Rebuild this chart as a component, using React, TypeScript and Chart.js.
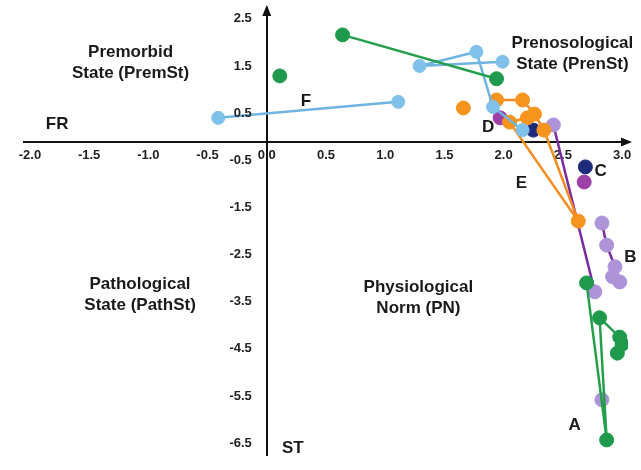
import React, { useEffect, useRef } from 'react';
import { Chart, registerables } from 'chart.js';

Chart.register(...registerables);

// Tick labels
const xTicks = [-2, -1.5, -1, -0.5, 0, 0.5, 1, 1.5, 2, 2.5, 3];
const yTicks = [2.5, 1.5, 0.5, -0.5, -1.5, -2.5, -3.5, -4.5, -5.5, -6.5];

// Series values (x = FR, y = ST)
const greenTop = [{ x: 0.64, y: 2.16 }, { x: 1.94, y: 1.23 }];
const greenSingle = [{ x: 0.11, y: 1.29 }];
const greenA = [
  { x: 2.70, y: -3.10 },
  { x: 2.87, y: -6.43 },
  { x: 2.81, y: -3.84 },
  { x: 2.98, y: -4.25 },
  { x: 3.0, y: -4.40 },
  { x: 2.96, y: -4.59 },
];
const blueF = [{ x: -0.41, y: 0.40 }, { x: 1.11, y: 0.74 }];
const blueCluster = [
  { x: 1.99, y: 1.59 },
  { x: 1.29, y: 1.50 },
  { x: 1.77, y: 1.80 },
  { x: 1.91, y: 0.63 },
  { x: 2.16, y: 0.14 },
];
const orangeSingle = [{ x: 1.66, y: 0.61 }];
const orangeE = [
  { x: 1.94, y: 0.78 },
  { x: 2.16, y: 0.78 },
  { x: 2.26, y: 0.48 },
  { x: 2.34, y: 0.14 },
  { x: 2.63, y: -1.79 },
  { x: 2.05, y: 0.31 },
  { x: 2.20, y: 0.40 },
];
const purpleLine = [{ x: 2.42, y: 0.25 }, { x: 2.77, y: -3.29 }];
const purpleB = [
  { x: 2.83, y: -1.83 },
  { x: 2.87, y: -2.30 },
  { x: 2.94, y: -2.76 },
  { x: 2.92, y: -2.97 },
  { x: 2.98, y: -3.08 },
];
const purpleSingle = [{ x: 2.83, y: -5.58 }];
const magentaPoints = [{ x: 1.97, y: 0.40 }, { x: 2.68, y: -0.96 }];
const navyPoints = [{ x: 2.25, y: 0.14 }, { x: 2.69, y: -0.64 }];

const annotations = [
  { x: -1.15, y: 1.8, lines: ['Premorbid', 'State (PremSt)'] },
  { x: 2.58, y: 1.99, lines: ['Prenosological', 'State (PrenSt)'] },
  { x: -1.07, y: -3.14, lines: ['Pathological', 'State (PathSt)'] },
  { x: 1.28, y: -3.19, lines: ['Physiological', 'Norm (PN)'] },
  { x: -1.77, y: 0.27, lines: ['FR'] },
  { x: 0.22, y: -6.6, lines: ['ST'] },
  { x: 0.33, y: 0.76, lines: ['F'] },
  { x: 1.87, y: 0.19, lines: ['D'] },
  { x: 2.15, y: -0.98, lines: ['E'] },
  { x: 2.82, y: -0.73, lines: ['C'] },
  { x: 3.07, y: -2.55, lines: ['B'] },
  { x: 2.6, y: -6.11, lines: ['A'] },
];

const FONT = '"Liberation Sans", Arial, sans-serif';

function series(data: any[], fill: string, line: string | null, radius = 7) {
  return {
    type: 'scatter' as const,
    data,
    showLine: !!line,
    borderColor: line || fill,
    borderWidth: 2.5,
    backgroundColor: fill,
    pointBackgroundColor: fill,
    pointBorderColor: fill,
    pointBorderWidth: 1,
    pointRadius: radius,
    pointHoverRadius: radius,
  };
}

const overlay = {
  id: 'overlay',
  afterDraw(chart: any) {
    const { ctx, scales } = chart;
    const xs = scales.x;
    const ys = scales.y;
    const axisY = ys.getPixelForValue(-0.11);
    const axisX = xs.getPixelForValue(0);
    ctx.save();
    ctx.fillStyle = '#111';
    // arrow at right end of x axis
    ctx.beginPath();
    ctx.moveTo(xs.right + 4, axisY);
    ctx.lineTo(xs.right - 7, axisY - 4.5);
    ctx.lineTo(xs.right - 7, axisY + 4.5);
    ctx.closePath();
    ctx.fill();
    // arrow at top of y axis
    ctx.beginPath();
    ctx.moveTo(axisX, ys.top - 3);
    ctx.lineTo(axisX - 4.5, ys.top + 8);
    ctx.lineTo(axisX + 4.5, ys.top + 8);
    ctx.closePath();
    ctx.fill();

    // y tick labels, from the y scale's ticks, set off to the left of the axis
    ctx.fillStyle = '#222';
    ctx.font = 'bold 13px ' + FONT;
    ctx.textAlign = 'right';
    ctx.textBaseline = 'middle';
    ys.ticks.forEach((t: any) => {
      ctx.fillText(Number(t.value).toFixed(1), axisX - 15, ys.getPixelForValue(t.value));
    });

    ctx.fillStyle = '#1a1a1a';
    ctx.font = 'bold 17px ' + FONT;
    ctx.textAlign = 'center';
    ctx.textBaseline = 'middle';
    annotations.forEach((a) => {
      const px = xs.getPixelForValue(a.x);
      const py = ys.getPixelForValue(a.y);
      a.lines.forEach((t, i) => ctx.fillText(t, px, py + i * 21));
    });
    ctx.restore();
  },
};

export default function App() {
  const ref = useRef<HTMLCanvasElement>(null);
  useEffect(() => {
    document.body.style.margin = '0';
    if (!ref.current) return;
    const chart = new Chart(ref.current, {
      type: 'scatter',
      data: {
        datasets: [
          series(greenTop, '#1f9a4c', '#24a04c'),
          series(greenSingle, '#1f9a4c', null),
          series(blueF, '#7fc1ea', '#6fb4e0', 6.5),
          series(blueCluster, '#7fc1ea', '#6fb4e0', 6.5),
          series(orangeSingle, '#f7941e', null),
          series(orangeE, '#f7941e', '#f58a1f'),
          series(greenA, '#1f9a4c', '#24a04c'),
          series(purpleLine, '#ad93d8', '#7a2b9e'),
          series(purpleB, '#ad93d8', '#7a2b9e'),
          series(purpleSingle, '#ad93d8', null),
          series(magentaPoints, '#9c3fa6', null),
          series(navyPoints, '#1d2b7a', null),
        ] as any,
      },
      options: {
        animation: false,
        responsive: false,
        layout: { padding: { left: 24, right: 13, top: 8, bottom: 15 } },
        plugins: { legend: { display: false }, tooltip: { enabled: false } },
        scales: {
          x: {
            type: 'linear',
            min: -2.05,
            max: 3.05,
            position: { y: -0.11 } as any,
            afterBuildTicks: (s: any) => {
              s.ticks = xTicks.map((v) => ({ value: v }));
            },
            grid: { display: false, drawTicks: false },
            border: { display: true, color: '#111', width: 2 },
            ticks: {
              autoSkip: false,
              maxRotation: 0,
              padding: 6,
              color: '#222',
              font: { family: FONT, size: 13, weight: 'bold' },
              callback: (v: any) => Number(v).toFixed(1),
            },
          },
          y: {
            type: 'linear',
            min: -6.75,
            max: 2.73,
            position: { x: 0 } as any,
            afterBuildTicks: (s: any) => {
              s.ticks = yTicks.map((v) => ({ value: v }));
            },
            grid: { display: false, drawTicks: false },
            border: { display: true, color: '#111', width: 2 },
            ticks: { display: false },
          },
        },
      },
      plugins: [overlay],
    });
    return () => chart.destroy();
  }, []);
  return <canvas ref={ref} width={641} height={470} style={{ display: 'block' }} />;
}
